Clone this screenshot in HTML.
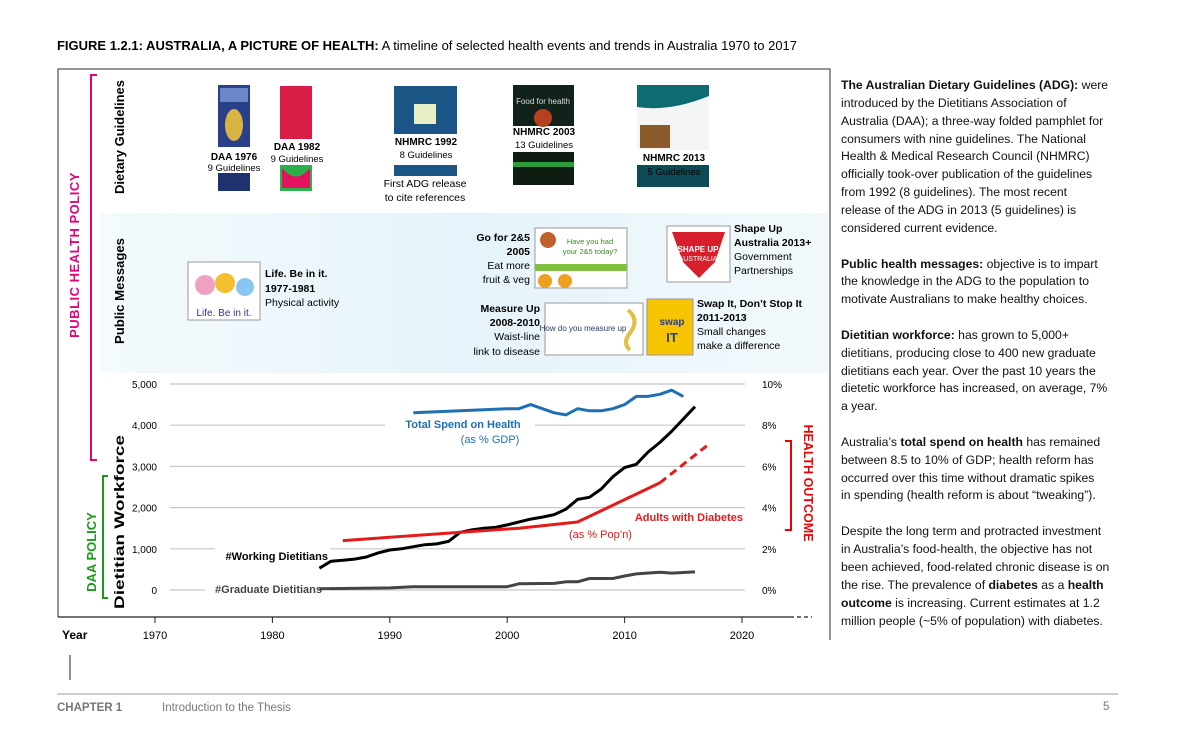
<!DOCTYPE html>
<html><head><meta charset="utf-8"><style>
body{margin:0;background:#fff;}
svg text{font-family:"Liberation Sans",sans-serif;}
</style></head><body>
<svg width="1200" height="741" viewBox="0 0 1200 741" xmlns="http://www.w3.org/2000/svg">
<defs>
<linearGradient id="bandg" x1="0" x2="1" y1="0" y2="0"><stop offset="0" stop-color="#f4fafd"/><stop offset="0.5" stop-color="#e6f3fa"/><stop offset="1" stop-color="#f2f9fc"/></linearGradient>
</defs>
<text x="57" y="50" font-size="12.5" textLength="740" lengthAdjust="spacingAndGlyphs"><tspan font-weight="bold">FIGURE 1.2.1: AUSTRALIA, A PICTURE OF HEALTH:</tspan> A timeline of selected health events and trends in Australia 1970 to 2017</text>
<path d="M58 617 V69 H830 V640" fill="none" stroke="#555" stroke-width="1.2"/>
<rect x="100" y="213" width="728" height="160" fill="url(#bandg)"/>
<text transform="translate(79,255) rotate(-90)" text-anchor="middle" font-size="13" fill="#e6007e" font-weight="bold" letter-spacing="0.5">PUBLIC HEALTH POLICY</text>
<path d="M97 75 H91 V460 H97" fill="none" stroke="#e6007e" stroke-width="2"/>
<text transform="translate(124,137) rotate(-90)" text-anchor="middle" font-size="13" font-weight="bold" textLength="114" lengthAdjust="spacingAndGlyphs">Dietary Guidelines</text>
<text transform="translate(124,291) rotate(-90)" text-anchor="middle" font-size="13" font-weight="bold" textLength="106" lengthAdjust="spacingAndGlyphs">Public Messages</text>
<text transform="translate(124,522) rotate(-90)" text-anchor="middle" font-size="13.5" font-weight="bold" textLength="174" lengthAdjust="spacingAndGlyphs">Dietitian Workforce</text>
<text transform="translate(96,552) rotate(-90)" text-anchor="middle" font-size="13" font-weight="bold" fill="#1a9a1a">DAA POLICY</text>
<path d="M108 476 H103 V598 H108" fill="none" stroke="#1a9a1a" stroke-width="2"/>
<text transform="translate(804,483) rotate(90)" text-anchor="middle" font-size="12.5" font-weight="bold" fill="#e00">HEALTH OUTCOME</text>
<path d="M785 441 H791 V530 H785" fill="none" stroke="#e00" stroke-width="2"/>

<g><rect x="218" y="85" width="32" height="62" fill="#2a3f8a"/><rect x="220" y="88" width="28" height="14" fill="#6b86c9"/><ellipse cx="234" cy="125" rx="9" ry="16" fill="#d8b442"/><rect x="218" y="173" width="32" height="18" fill="#1f3270"/></g>
<text x="234" y="160" text-anchor="middle" font-size="10" font-weight="bold">DAA 1976</text>
<text x="234" y="171" text-anchor="middle" font-size="9.5">9 Guidelines</text>
<g><rect x="280" y="86" width="32" height="53" fill="#d81e45"/><rect x="280" y="165" width="32" height="26" fill="#2db04b"/><path d="M282 168 Q296 185 310 168 V188 H282Z" fill="#e3125f"/></g>
<text x="297" y="150" text-anchor="middle" font-size="10" font-weight="bold">DAA 1982</text>
<text x="297" y="162" text-anchor="middle" font-size="9.5">9 Guidelines</text>
<g><rect x="394" y="86" width="63" height="48" fill="#1a5585"/><rect x="414" y="104" width="22" height="20" fill="#e8efc4"/><rect x="394" y="165" width="63" height="11" fill="#1a5585"/></g>
<text x="426" y="145" text-anchor="middle" font-size="10" font-weight="bold">NHMRC 1992</text>
<text x="426" y="158" text-anchor="middle" font-size="9.5">8 Guidelines</text>
<text x="425" y="187" text-anchor="middle" font-size="10.5">First ADG release</text>
<text x="425" y="201" text-anchor="middle" font-size="10.5">to cite references</text>
<g><rect x="513" y="85" width="61" height="41" fill="#10221a"/><circle cx="543" cy="118" r="9" fill="#b5421f"/><text x="543" y="104" text-anchor="middle" font-size="8" fill="#ddd">Food for health</text><rect x="513" y="152" width="61" height="33" fill="#0e1c12"/><rect x="513" y="162" width="61" height="5" fill="#2c9c3a"/></g>
<text x="544" y="135" text-anchor="middle" font-size="10" font-weight="bold">NHMRC 2003</text>
<text x="544" y="148" text-anchor="middle" font-size="9.5">13 Guidelines</text>
<g><rect x="637" y="85" width="72" height="65" fill="#f4f6f5"/><path d="M637 85 H709 V96 Q670 112 637 107Z" fill="#0e6b72"/><rect x="640" y="125" width="30" height="23" fill="#8b5a2b"/><rect x="637" y="165" width="72" height="22" fill="#0e4b56"/></g>
<text x="674" y="161" text-anchor="middle" font-size="10" font-weight="bold">NHMRC 2013</text>
<text x="674" y="175" text-anchor="middle" font-size="9.5">5 Guidelines</text>

<g><rect x="188" y="262" width="72" height="58" fill="#fff" stroke="#999"/><circle cx="205" cy="285" r="10" fill="#f0a0c0"/><circle cx="225" cy="283" r="10" fill="#f4c030"/><circle cx="245" cy="287" r="9" fill="#88c8f0"/><text x="224" y="316" text-anchor="middle" font-size="10" fill="#3a2f8a">Life. Be in it.</text></g>
<text x="265" y="277" font-size="10.5" font-weight="bold">Life. Be in it.</text>
<text x="265" y="292" font-size="10.5" font-weight="bold">1977-1981</text>
<text x="265" y="306" font-size="10.5">Physical activity</text>
<g><rect x="535" y="228" width="92" height="60" fill="#fff" stroke="#999"/><rect x="535" y="264" width="92" height="7" fill="#7fc040"/><circle cx="548" cy="240" r="8" fill="#c0602a"/><circle cx="545" cy="281" r="7" fill="#f0a020"/><circle cx="565" cy="281" r="7" fill="#f0a020"/><text x="590" y="244" text-anchor="middle" font-size="7.5" fill="#3a8a2a">Have you had</text><text x="590" y="254" text-anchor="middle" font-size="7.5" fill="#3a8a2a">your 2&amp;5 today?</text></g>
<text x="530" y="241" text-anchor="end" font-size="10.5" font-weight="bold">Go for 2&amp;5</text>
<text x="530" y="255" text-anchor="end" font-size="10.5" font-weight="bold">2005</text>
<text x="530" y="269" text-anchor="end" font-size="10.5">Eat more</text>
<text x="530" y="283" text-anchor="end" font-size="10.5">fruit &amp; veg</text>
<g><rect x="667" y="226" width="63" height="56" fill="#fff" stroke="#999"/><path d="M672 232 H725 L715 262 L699 278 L683 262Z" fill="#d8202c"/><text x="698" y="252" text-anchor="middle" font-size="8" font-weight="bold" fill="#fff">SHAPE UP</text><text x="698" y="261" text-anchor="middle" font-size="7" fill="#fff">AUSTRALIA</text></g>
<text x="734" y="232" font-size="10.5" font-weight="bold">Shape Up</text>
<text x="734" y="246" font-size="10.5" font-weight="bold">Australia 2013+</text>
<text x="734" y="260" font-size="10.5">Government</text>
<text x="734" y="274" font-size="10.5">Partnerships</text>
<g><rect x="545" y="303" width="98" height="52" fill="#fff" stroke="#999"/><text x="583" y="331" text-anchor="middle" font-size="8" fill="#2b3a6b">How do you measure up</text><path d="M628 310 Q640 320 630 333 Q622 343 630 350" stroke="#e0c040" stroke-width="4" fill="none"/></g>
<text x="540" y="312" text-anchor="end" font-size="10.5" font-weight="bold">Measure Up</text>
<text x="540" y="326" text-anchor="end" font-size="10.5" font-weight="bold">2008-2010</text>
<text x="540" y="340" text-anchor="end" font-size="10.5">Waist-line</text>
<text x="540" y="355" text-anchor="end" font-size="10.5">link to disease</text>
<g><rect x="647" y="299" width="46" height="56" fill="#f6c400" stroke="#999"/><text x="672" y="325" text-anchor="middle" font-size="10" font-weight="bold" fill="#2a3f8a">swap</text><text x="672" y="342" text-anchor="middle" font-size="13" font-weight="bold" fill="#2a3f8a">IT</text></g>
<text x="697" y="307" font-size="10.5" font-weight="bold">Swap It, Don’t Stop It</text>
<text x="697" y="321" font-size="10.5" font-weight="bold">2011-2013</text>
<text x="697" y="335" font-size="10.5">Small changes</text>
<text x="697" y="349" font-size="10.5">make a difference</text>

<g id="chart"></g>

<text x="62" y="639" font-size="12" font-weight="bold">Year</text>
<line x1="58" y1="617" x2="790" y2="617" stroke="#222" stroke-width="1.3"/>
<line x1="790" y1="617" x2="812" y2="617" stroke="#222" stroke-width="1.3" stroke-dasharray="4,3"/>
<line x1="70" y1="655" x2="70" y2="680" stroke="#222" stroke-width="1"/>

<g font-size="12.2" fill="#111">
<text x="841" y="89"><tspan font-weight="bold">The Australian Dietary Guidelines (ADG):</tspan> were</text>
<text x="841" y="107">introduced by the Dietitians Association of</text>
<text x="841" y="125">Australia (DAA); a three-way folded pamphlet for</text>
<text x="841" y="143">consumers with nine guidelines.  The National</text>
<text x="841" y="160">Health &amp; Medical Research Council (NHMRC)</text>
<text x="841" y="178">officially took-over publication of the guidelines</text>
<text x="841" y="196">from 1992 (8 guidelines).  The most recent</text>
<text x="841" y="214">release of the ADG in 2013 (5 guidelines) is</text>
<text x="841" y="232">considered current evidence.</text>
<text x="841" y="268"><tspan font-weight="bold">Public health messages:</tspan> objective is to impart</text>
<text x="841" y="285">the knowledge in the ADG to the population to</text>
<text x="841" y="303">motivate Australians to make healthy choices.</text>
<text x="841" y="339"><tspan font-weight="bold">Dietitian workforce:</tspan> has grown to 5,000+</text>
<text x="841" y="357">dietitians, producing close to 400 new graduate</text>
<text x="841" y="375">dietitians each year.  Over the past 10 years the</text>
<text x="841" y="392">dietetic workforce has increased, on average, 7%</text>
<text x="841" y="410">a year.</text>
<text x="841" y="446">Australia’s <tspan font-weight="bold">total spend on health</tspan> has remained</text>
<text x="841" y="464">between 8.5 to 10% of GDP; health reform has</text>
<text x="841" y="482">occurred over this time without dramatic spikes</text>
<text x="841" y="499">in spending (health reform is about “tweaking”).</text>
<text x="841" y="535">Despite the long term and protracted investment</text>
<text x="841" y="553">in Australia’s food-health, the objective has not</text>
<text x="841" y="571">been achieved, food-related chronic disease is on</text>
<text x="841" y="589">the rise. The prevalence of <tspan font-weight="bold">diabetes</tspan> as a <tspan font-weight="bold">health</tspan></text>
<text x="841" y="607"><tspan font-weight="bold">outcome</tspan> is increasing.  Current estimates at 1.2</text>
<text x="841" y="625">million people (~5% of population) with diabetes.</text>
</g>
<line x1="57" y1="694" x2="1118" y2="694" stroke="#999" stroke-width="1"/>
<text x="57" y="711" font-size="11.5" font-weight="bold" fill="#777">CHAPTER 1</text>
<text x="162" y="711" font-size="11.5" fill="#777">Introduction to the Thesis</text>
<text x="1103" y="710" font-size="11.5" fill="#777">5</text>
</svg>
<script>
const yearTicks=[1970,1980,1990,2000,2010,2020];
const leftTicks=[0,1000,2000,3000,4000,5000];
const leftTickLabels=["0","1,000","2,000","3,000","4,000","5,000"];
const rightTickLabels=["0%","2%","4%","6%","8%","10%"];
const workingYears=[1984,1985,1986,1987,1988,1989,1990,1991,1992,1993,1994,1995,1996,1997,1998,1999,2000,2001,2002,2003,2004,2005,2006,2007,2008,2009,2010,2011,2012,2013,2014,2015,2016];
const workingValues=[530,700,720,750,800,900,970,1000,1050,1100,1120,1180,1400,1460,1500,1520,1580,1650,1720,1770,1830,1960,2200,2250,2450,2750,2970,3050,3350,3580,3850,4150,4450];
const gradYears=[1984,1990,1992,2000,2001,2004,2005,2006,2007,2009,2010,2011,2013,2014,2016];
const gradValues=[30,50,80,80,150,160,200,200,280,280,340,390,430,410,440];
const spendYears=[1992,2000,2001,2002,2003,2004,2005,2006,2007,2008,2009,2010,2011,2012,2013,2014,2015];
const spendValues=[8.6,8.8,8.8,9.0,8.8,8.6,8.5,8.8,8.7,8.7,8.8,9.0,9.4,9.4,9.5,9.7,9.4];
const diabYears=[1986,2001,2006,2013];
const diabValues=[2.4,3.0,3.3,5.2];
const diabProjYears=[2013,2017];
const diabProjValues=[5.2,7.0];

const NS="http://www.w3.org/2000/svg";
const g=document.getElementById('chart');
const X=y=>155+(y-1970)*(742-155)/50;
const YL=v=>590-v*(590-384)/5000;
const YR=v=>590-v*(590-384)/10;
function mk(t,a){const e=document.createElementNS(NS,t);for(const k in a)e.setAttribute(k,a[k]);g.appendChild(e);return e;}
const gaps={0:[[205,330]],1000:[[215,330]],4000:[[385,535]]};
leftTicks.forEach((v,i)=>{
  const y=YL(v);
  let segs=[[170,745]];
  (gaps[v]||[]).forEach(gp=>{segs=[[170,gp[0]],[gp[1],745]];});
  segs.forEach(s=>{const l=mk('line',{x1:s[0],x2:s[1],y1:y,y2:y,stroke:'#c8c8c8','stroke-width':1.2});

});
  const t=mk('text',{x:157,y:y+4,'text-anchor':'end','font-size':10});t.textContent=leftTickLabels[i];


  const r=mk('text',{x:762,y:y+4,'font-size':10});r.textContent=rightTickLabels[i];


});
yearTicks.forEach(yr=>{
  const x=X(yr);
  const l=mk('line',{x1:x,x2:x,y1:617,y2:623,stroke:'#222'});


  const t=mk('text',{x:x,y:639,'text-anchor':'middle','font-size':11});t.textContent=yr;


});
function line(xs,vs,sc,col,w,name,dash){
  const d=xs.map((x,i)=>(i?'L':'M')+X(x).toFixed(1)+' '+sc(vs[i]).toFixed(1)).join(' ');
  const p=mk('path',{d:d,fill:'none',stroke:col,'stroke-width':w,'stroke-linejoin':'round'});
  if(dash)p.setAttribute('stroke-dasharray',dash);
  
  
}
line(gradYears,gradValues,YL,'#444',3,'graduate-dietitians-line');
line(workingYears,workingValues,YL,'#000',3,'working-dietitians-line');
line(spendYears,spendValues,YR,'#1f6fb2',3,'health-spend-line');
line(diabYears,diabValues,YR,'#e51b1b',3,'diabetes-line');
line(diabProjYears,diabProjValues,YR,'#e51b1b',3,'diabetes-projection-line','8,5');
function lab(x,y,txt,col,w,name,anchor){const t=mk('text',{x:x,y:y,'font-size':11,fill:col,'font-weight':w,'text-anchor':anchor||'start'});t.textContent=txt;

}
lab(463,428,'Total Spend on Health','#1f6fb2','bold','health-spend-label','middle');
lab(490,443,'(as % GDP)','#1f6fb2','normal','health-spend-sublabel','middle');
lab(743,521,'Adults with Diabetes','#e51b1b','bold','diabetes-label','end');
lab(569,538,'(as % Pop’n)','#e51b1b','normal','diabetes-sublabel');
lab(328,560,'#Working Dietitians','#000','bold','working-dietitians-label','end');
lab(322,593,'#Graduate Dietitians','#444','bold','graduate-dietitians-label','end');
</script>
</body></html>
